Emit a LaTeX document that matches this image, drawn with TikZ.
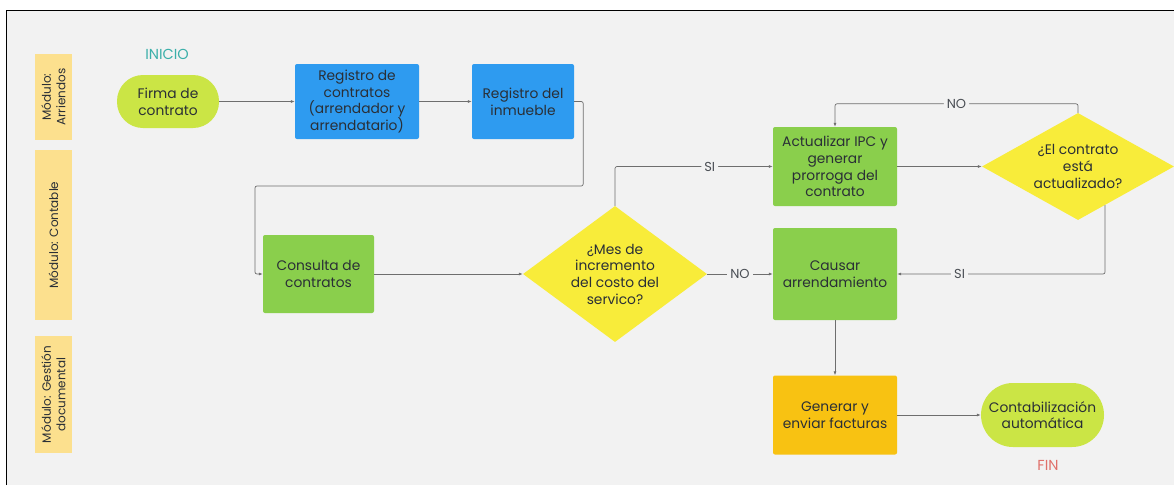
\documentclass[tikz,border=0pt]{standalone}
\usepackage{fontspec}
\setmainfont{Poppins}
\usetikzlibrary{shapes.geometric, arrows.meta, positioning, calc}

\definecolor{fondo}{HTML}{F2F2F2}
\definecolor{azul}{HTML}{2E9BF0}
\definecolor{verde}{HTML}{8ACF4C}
\definecolor{amarillo}{HTML}{F8EC3A}
\definecolor{naranja}{HTML}{F8C212}
\definecolor{lima}{HTML}{CBE545}
\definecolor{modulo}{HTML}{FCE08E}
\definecolor{texto}{HTML}{2A2F36}
\definecolor{linea}{HTML}{6E6E6E}
\definecolor{turquesa}{HTML}{3AAFA9}
\definecolor{salmon}{HTML}{E0706A}

\begin{document}
\begin{tikzpicture}[x=1pt, y=-1pt]
	\tikzstyle{proceso}=[rectangle, rounded corners=2pt, align=center, text=texto, inner sep=0pt, font=\fontsize{13.8}{16.7}\selectfont];
	\tikzstyle{terminal}=[proceso, fill=lima, rounded corners=26pt];
	\tikzstyle{decision}=[diamond, fill=amarillo, align=center, text=texto, inner sep=-8pt, font=\fontsize{13.8}{16.7}\selectfont];
	\tikzstyle{modulo}=[rectangle, rotate=90, fill=modulo, align=center, text=texto, minimum height=37pt, font=\fontsize{12}{14.5}\selectfont];
	\tikzstyle{flujo}=[draw=linea, line width=0.7pt, -{Latex[length=4pt, width=3pt]}];
	\tikzstyle{etiqueta}=[fill=fondo, inner sep=3pt, text=texto!85, font=\fontsize{13}{15}\selectfont];

	\useasboundingbox (0, 0) rectangle (1174, 485);
	\fill[fondo] (6, 10) rectangle (1174, 485);
	\draw[line width=1.5pt] (6.5, 485) -- (6.5, 10.5) -- (1174, 10.5);

	% carriles
	\node[modulo, minimum width=86pt] (m1) at (53.5, 97) {Módulo:\\Arriendos};
	\node[modulo, minimum width=170pt] (m2) at (53.5, 235) {Módulo: Contable};
	\node[modulo, minimum width=117pt] (m3) at (53.5, 394.5) {Módulo: Gestión\\documental};

	\node[text=turquesa, font=\fontsize{14.5}{16}\selectfont] (inicio) at (167, 54) {INICIO};
	\node[terminal, minimum width=102pt, minimum height=53pt] (firma) at (168, 101.5) {Firma de\\contrato};
	\node[proceso, fill=azul, minimum width=124pt, minimum height=75pt] (regc) at (357, 101.5) {Registro de\\contratos\\(arrendador y\\arrendatario)};
	\node[proceso, fill=azul, minimum width=102pt, minimum height=75pt] (inm) at (523, 101.5) {Registro del\\inmueble};
	\node[proceso, fill=verde, minimum width=111pt, minimum height=78pt] (cons) at (318.5, 274) {Consulta de\\contratos};
	\node[decision, aspect=1.35, minimum width=184pt, minimum height=136pt] (dmes) at (615, 274) {¿Mes de\\incremento\\del costo del\\servico?};
	\node[proceso, fill=verde, minimum width=124pt, minimum height=79pt] (act) at (835, 166.5) {Actualizar IPC y\\generar\\prorroga del\\contrato};
	\node[decision, aspect=1.8, minimum width=192pt, minimum height=107pt] (dact) at (1078, 166.5) {¿El contrato\\está\\actualizado?};
	\node[proceso, fill=verde, minimum width=124pt, minimum height=92pt] (caus) at (835, 274) {Causar\\arrendamiento};
	\node[proceso, fill=naranja, minimum width=124pt, minimum height=79pt] (gen) at (835, 415) {Generar y\\enviar facturas};
	\node[terminal, minimum width=123pt, minimum height=64pt, rounded corners=32pt] (conta) at (1042.5, 415) {Contabilización\\automática};
	\node[text=salmon, font=\fontsize{14.5}{16}\selectfont] (fin) at (1048, 465) {FIN};

	% flujo
	\draw[flujo] (firma) -- (regc);
	\draw[flujo] (regc) -- (inm);
	\draw[flujo, rounded corners=2pt] (inm.east) -- ++(9, 0) |- (255, 186) |- (cons.west);
	\draw[flujo] (cons) -- (dmes);
	\draw[flujo, rounded corners=2pt] (dmes.north) |- node[etiqueta, pos=0.8] {SI} (act.west);
	\draw[flujo] (dmes.east) -- node[etiqueta] {NO} (caus.west);
	\draw[flujo] (act) -- (dact);
	\draw[flujo, rounded corners=2pt] (dact.north) -- ++(0, -9) -| node[etiqueta, pos=0.25] {NO} (act.north);
	\draw[flujo, rounded corners=2pt] (dact.-55) |- node[etiqueta, pos=0.85] {SI} (caus.east);
	\draw[flujo] (caus) -- (gen);
	\draw[flujo] (gen) -- (conta);
\end{tikzpicture}
\end{document}
